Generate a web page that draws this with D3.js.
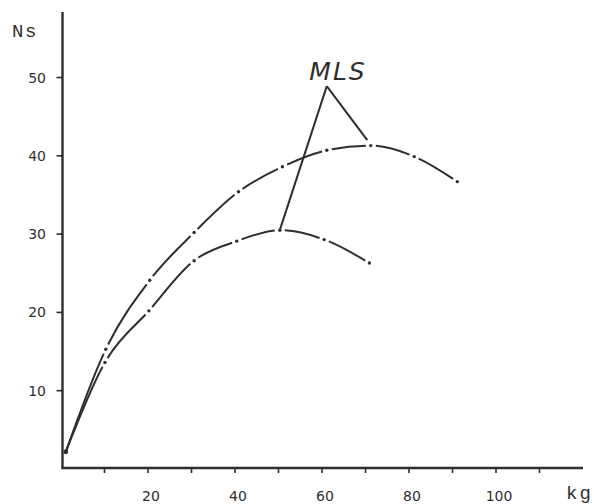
<!DOCTYPE html>
<html>
<head>
<meta charset="utf-8">
<script src="https://cdn.jsdelivr.net/npm/d3@7"></script>
<style>
  html, body { margin: 0; padding: 0; background: #fff; }
  svg { display: block; }
</style>
</head>
<body>
<svg id="chart" width="597" height="504"></svg>
<script>
// Load (kg) against impulse (Ns): two curves, each marked every ~10 kg
const upperKg = [1.1, 10.3, 20.4, 30.6, 40.8, 50.9, 61.1, 71.2, 81.2, 91.1];
const upperNs = [2.2, 15.3, 24.1, 30.2, 35.4, 38.6, 40.7, 41.3, 39.9, 36.7];
const lowerKg = [1.1, 10.1, 20.2, 30.6, 40.4, 50.3, 60.5, 70.9];
const lowerNs = [2.2, 13.6, 20.2, 26.6, 29.1, 30.5, 29.3, 26.3];

// MLS pointer: apex and the two points it indicates
const mlsApex = [61.1, 48.9];
const mlsTargets = [[50.3, 30.5], [70.4, 42.0]];

const xTicks = [10, 20, 30, 40, 50, 60, 70, 80, 90, 100, 110];
const xTickLabels = [20, 40, 60, 80, 100];
const yTicks = [10, 20, 30, 40, 50];

const ink = "#2e2e2e";
const svg = d3.select("#chart");

const x = d3.scaleLinear().domain([0, 100]).range([61, 496]);
const y = d3.scaleLinear().domain([0, 50]).range([469, 77.5]);

// Axes
const axisX0 = 62.5, axisY0 = 468;
svg.append("line")
  .attr("x1", axisX0).attr("x2", axisX0).attr("y1", 12).attr("y2", axisY0 + 1)
  .attr("stroke", ink).attr("stroke-width", 2.4);
svg.append("line")
  .attr("x1", axisX0 - 1).attr("x2", 583).attr("y1", axisY0).attr("y2", axisY0)
  .attr("stroke", ink).attr("stroke-width", 2.4);

const xAxis = svg.append("g");
xAxis.selectAll("line").data(xTicks).join("line")
  .attr("x1", d => x(d)).attr("x2", d => x(d))
  .attr("y1", axisY0).attr("y2", axisY0 + 5)
  .attr("stroke", ink).attr("stroke-width", 1.6);
xAxis.selectAll("text").data(xTickLabels).join("text")
  .attr("x", d => x(d) + 3).attr("y", 501)
  .attr("text-anchor", "middle")
  .attr("font-family", "DejaVu Sans").attr("font-size", 14)
  .attr("fill", ink).text(d => d);

const yAxis = svg.append("g");
yAxis.selectAll("line").data(yTicks).join("line")
  .attr("x1", axisX0 - 6).attr("x2", axisX0)
  .attr("y1", d => y(d)).attr("y2", d => y(d))
  .attr("stroke", ink).attr("stroke-width", 1.6);
yAxis.selectAll("text").data(yTicks).join("text")
  .attr("x", 46).attr("y", d => y(d) + 5)
  .attr("text-anchor", "end")
  .attr("font-family", "DejaVu Sans").attr("font-size", 14)
  .attr("fill", ink).text(d => d);

// Unit labels
svg.append("text").attr("x", 12).attr("y", 37)
  .attr("font-family", "Liberation Mono").attr("font-size", 19)
  .attr("letter-spacing", 1.5).attr("fill", ink).text("Ns");
svg.append("text").attr("x", 566).attr("y", 499)
  .attr("font-family", "Liberation Mono").attr("font-size", 19)
  .attr("letter-spacing", 2).attr("fill", ink).text("kg");

// Dash-dot curve: a gap on either side of every marked point, dot in the gap
const line = d3.line().x(d => x(d[0])).y(d => y(d[1])).curve(d3.curveMonotoneX);

function drawCurve(kg, ns) {
  const pts = kg.map((k, i) => [k, ns[i]]);
  const path = svg.append("path")
    .attr("d", line(pts))
    .attr("fill", "none").attr("stroke", ink)
    .attr("stroke-width", 2).attr("stroke-linecap", "butt");
  const node = path.node();
  const total = node.getTotalLength();
  // arc length at each marked point
  const lens = [];
  let start = 0;
  pts.forEach((p, i) => {
    if (i === 0) { lens.push(0); return; }
    if (i === pts.length - 1) { lens.push(total); return; }
    const px = x(p[0]), py = y(p[1]);
    let best = start, bestD = Infinity;
    for (let l = start; l <= total; l += 0.25) {
      const q = node.getPointAtLength(l);
      const dd = (q.x - px) ** 2 + (q.y - py) ** 2;
      if (dd < bestD) { bestD = dd; best = l; }
    }
    lens.push(best);
    start = best;
  });
  const g = 5;
  const dash = [];
  let pos = 0;
  for (let i = 1; i < lens.length; i++) {
    const end = lens[i] - g;
    dash.push(Math.max(0, end - pos));
    const next = i === lens.length - 1 ? total + 10 : lens[i] + g;
    dash.push(next - end);
    pos = next;
  }
  path.attr("stroke-dasharray", dash.join(" "));
  svg.append("g").selectAll("circle").data(pts.slice(1)).join("circle")
    .attr("cx", d => x(d[0])).attr("cy", d => y(d[1]))
    .attr("r", 1.7).attr("fill", ink);
  svg.append("circle").attr("cx", x(pts[0][0])).attr("cy", y(pts[0][1]))
    .attr("r", 2.2).attr("fill", ink);
}

drawCurve(upperKg, upperNs);
drawCurve(lowerKg, lowerNs);

// MLS annotation
const pointer = svg.append("g").attr("stroke", ink).attr("stroke-width", 2).attr("fill", "none");
mlsTargets.forEach(t => {
  pointer.append("line")
    .attr("x1", x(mlsApex[0])).attr("y1", y(mlsApex[1]))
    .attr("x2", x(t[0])).attr("y2", y(t[1]));
});
svg.append("text")
  .attr("x", 338).attr("y", 79.5)
  .attr("text-anchor", "middle")
  .attr("font-family", "DejaVu Sans").attr("font-style", "italic")
  .attr("font-weight", 300)
  .attr("font-size", 25).attr("letter-spacing", 2)
  .attr("fill", ink).text("MLS");
</script>
</body>
</html>
